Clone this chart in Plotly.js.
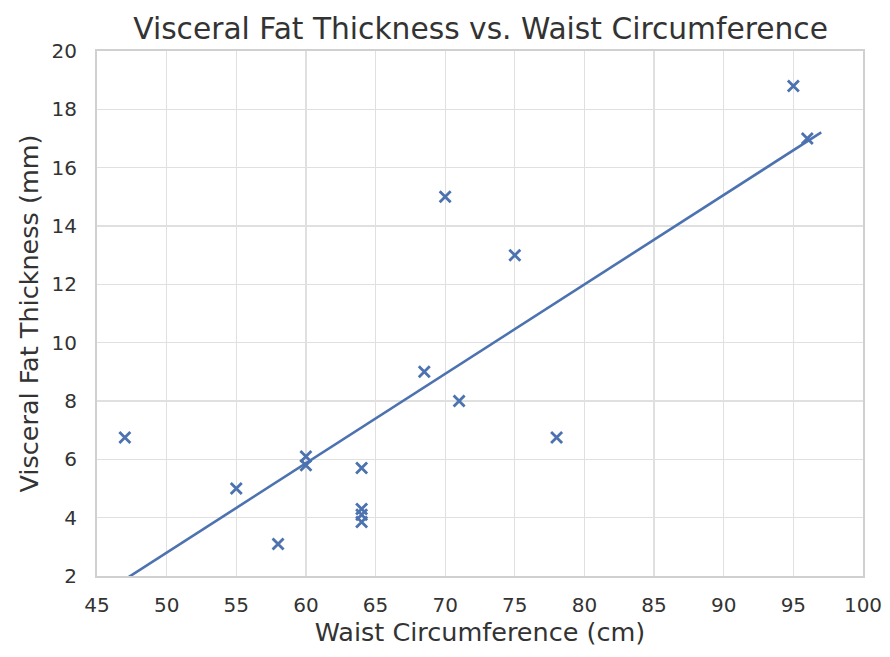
<!DOCTYPE html>
<html>
<head>
<meta charset="utf-8">
<script src="https://cdn.plot.ly/plotly-3.0.1.min.js"></script>
<style>
  html, body { margin: 0; padding: 0; background: #fff; }
  #chart { width: 890px; height: 657px; }
</style>
</head>
<body>
<div id="chart"></div>
<script>
// waist circumference (cm) and visceral fat thickness (mm)
var waist = [47, 55, 58, 60, 60, 64, 64, 64, 64, 68.5, 70, 71, 75, 78, 95, 96];
var fat   = [6.75, 5.0, 3.1, 6.1, 5.8, 5.7, 4.3, 4.1, 3.85, 9.0, 15.0, 8.0, 13.0, 6.75, 18.8, 17.0];

// fitted line end points
var fitX = [47, 97];
var fitY = [1.88, 17.21];

var xTicks = [45, 50, 55, 60, 65, 70, 75, 80, 85, 90, 95, 100];
var yTicks = [2, 4, 6, 8, 10, 12, 14, 16, 18, 20];

var blue = '#4C72B0';

var points = {
  x: waist,
  y: fat,
  mode: 'markers',
  type: 'scatter',
  marker: {
    symbol: 'x-thin',
    size: 11,
    color: blue,
    line: { color: blue, width: 2.8 }
  }
};

var fit = {
  x: fitX,
  y: fitY,
  mode: 'lines',
  type: 'scatter',
  line: { color: blue, width: 2.6 }
};

var axisStyle = {
  showgrid: true,
  gridcolor: '#e0e0e0',
  gridwidth: 1.3,
  zeroline: false,
  showline: true,
  linecolor: '#d0d0d0',
  linewidth: 2,
  mirror: true,
  ticks: '',
  tickfont: { family: 'DejaVu Sans', size: 20, color: '#333' }
};

var layout = {
  width: 890,
  height: 657,
  margin: { l: 97, r: 27, t: 51, b: 81 },
  paper_bgcolor: '#fff',
  plot_bgcolor: '#fff',
  showlegend: false,
  font: { family: 'DejaVu Sans', color: '#333' },
  title: {
    text: 'Visceral Fat Thickness vs. Waist Circumference',
    font: { family: 'DejaVu Sans', size: 29.7, color: '#333' },
    x: 0.54,
    xanchor: 'center',
    y: 0.957,
    yanchor: 'middle'
  },
  xaxis: Object.assign({}, axisStyle, {
    range: [45, 100],
    tickvals: xTicks,
    ticklabelstandoff: 10,
    title: { text: 'Waist Circumference (cm)', font: { family: 'DejaVu Sans', size: 25.5, color: '#333' }, standoff: 6 }
  }),
  yaxis: Object.assign({}, axisStyle, {
    range: [2, 20],
    tickvals: yTicks,
    ticklabelstandoff: 14,
    title: { text: 'Visceral Fat Thickness (mm)', font: { family: 'DejaVu Sans', size: 25.5, color: '#333' }, standoff: 6 }
  })
};

Plotly.newPlot('chart', [fit, points], layout, { staticPlot: true });
</script>
</body>
</html>
